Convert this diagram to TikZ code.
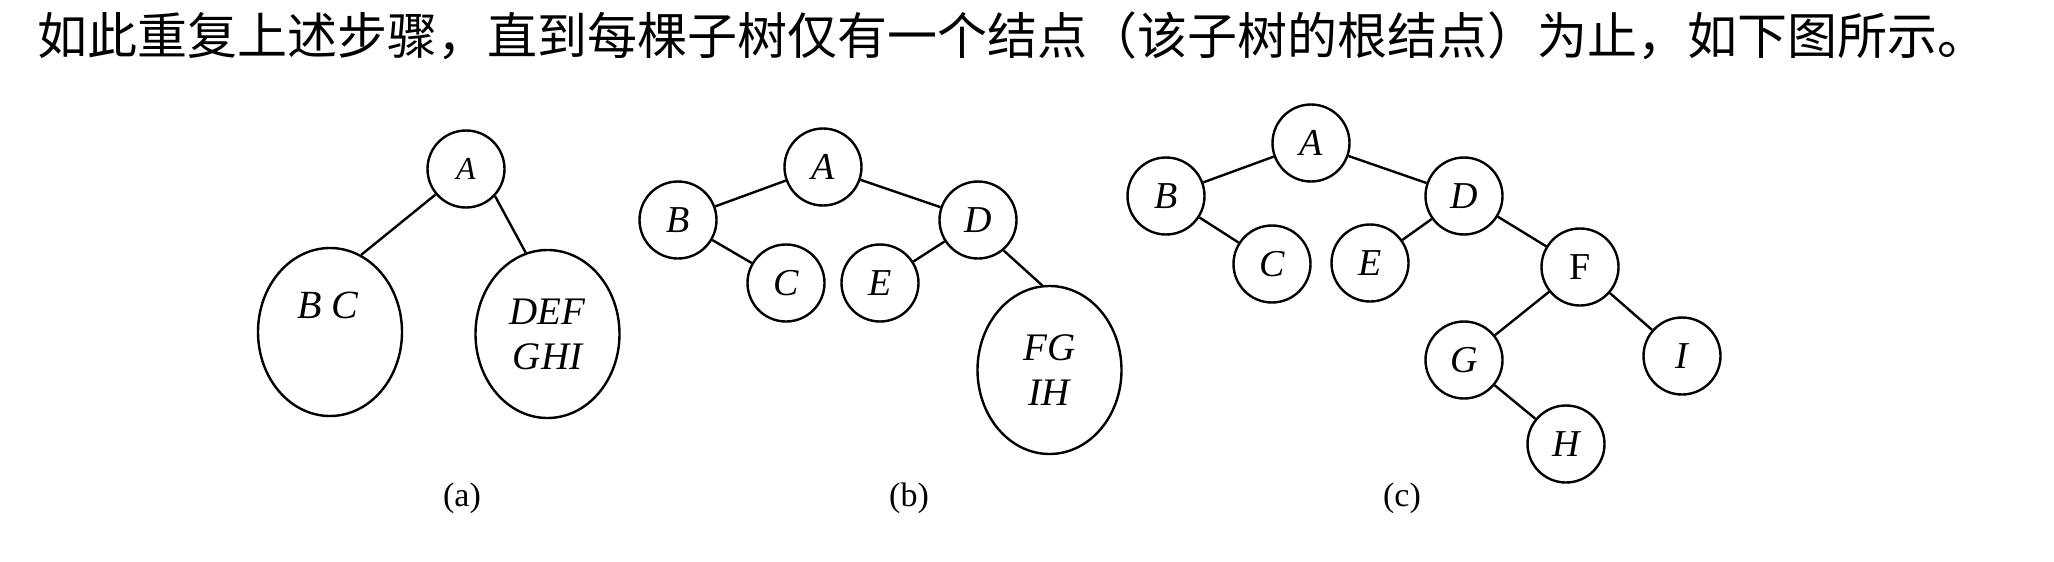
\documentclass[tikz,border=0pt]{standalone}
\usepackage{fontspec}
\setmainfont{Liberation Serif}
\newfontfamily\cjk{Noto Sans CJK SC}
\usetikzlibrary{shapes.geometric}
\tikzset{
  cn/.style={circle, draw, line width=2.4pt, minimum size=77pt, inner sep=0pt, font=\fontsize{38}{42}\selectfont\itshape},
  el/.style={ellipse, draw, line width=2.4pt, minimum width=144pt, minimum height=168pt, inner sep=0pt, align=center, font=\fontsize{39}{45}\selectfont\itshape},
  ed/.style={line width=2.4pt},
  capt/.style={font=\fontsize{34}{38}\selectfont},
}
\begin{document}
\begin{tikzpicture}[x=1pt,y=-1pt]
\useasboundingbox (0,0) rectangle (2054,562);
\node[anchor=base west, inner sep=0pt, font=\cjk\fontsize{50}{56}\selectfont] (title) at (37,54) {如此重复上述步骤，直到每棵子树仅有一个结点（该子树的根结点）为止，如下图所示。};

% (a)
\node[cn, font=\fontsize{32}{36}\selectfont\itshape] (aA) at (466,169) {A};
\node[el] (aBC) at (330,332) {};
\node[font=\fontsize{40}{45}\selectfont\itshape] (aBCt) at (328,305) {B C};
\node[el] (aDEF) at (547.5,334) {DEF\\GHI};
\draw[ed] (aA.220) -- (aBC.68);
\draw[ed] (aA.317) -- (aDEF.105);
\node[capt] (capa) at (462,498) {(a)};

% (b)
\node[cn] (bA) at (823,167) {A};
\node[cn] (bB) at (678,220) {B};
\node[cn] (bC) at (786,283) {C};
\node[cn] (bE) at (880,283) {E};
\node[cn] (bD) at (978,220) {D};
\node[el] (bFG) at (1049.5,370) {FG\\IH};
\draw[ed] (bA) -- (bB);
\draw[ed] (bB) -- (bC);
\draw[ed] (bA) -- (bD);
\draw[ed] (bD) -- (bE);
\draw[ed] (bD.-50) -- (bFG.95);
\node[capt] (capb) at (909,498) {(b)};

% (c)
\node[cn] (cA) at (1311,143) {A};
\node[cn] (cB) at (1166,196) {B};
\node[cn] (cC) at (1272,264) {C};
\node[cn] (cE) at (1370,263) {E};
\node[cn] (cD) at (1464,196) {D};
\node[cn, font=\fontsize{38}{42}\selectfont\upshape] (cF) at (1580,267) {F};
\node[cn] (cG) at (1464,360) {G};
\node[cn] (cI) at (1682,356) {I};
\node[cn] (cH) at (1566,444) {H};
\draw[ed] (cA) -- (cB);
\draw[ed] (cB) -- (cC);
\draw[ed] (cA) -- (cD);
\draw[ed] (cD) -- (cE);
\draw[ed] (cD) -- (cF);
\draw[ed] (cF) -- (cG);
\draw[ed] (cF) -- (cI);
\draw[ed] (cG) -- (cH);
\node[capt] (capc) at (1402,498) {(c)};
\end{tikzpicture}
\end{document}
